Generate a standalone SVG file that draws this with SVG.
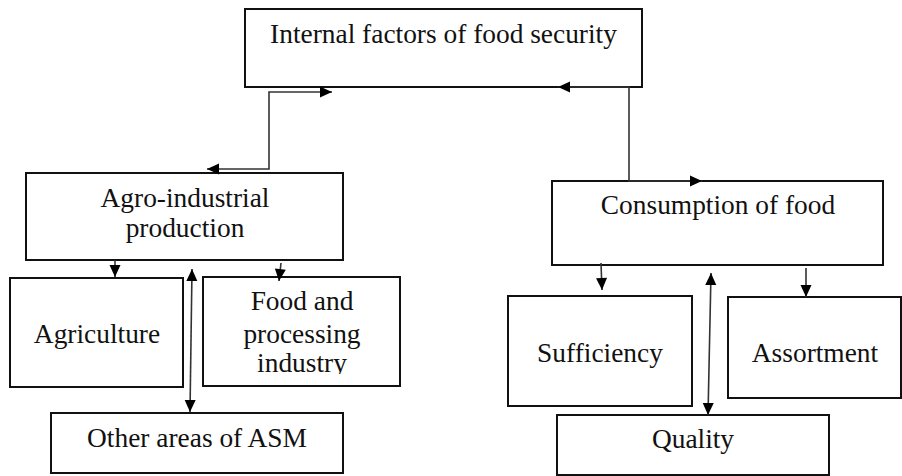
<svg xmlns="http://www.w3.org/2000/svg" width="902" height="476" viewBox="0 0 902 476">
  <style>
    .box { fill: #fff; stroke: #111; stroke-width: 2; }
    .lbl { font-family: "Liberation Serif", "Times New Roman", serif; font-size: 27.4px; fill: #111; text-anchor: middle; }
    .con { fill: none; stroke: #333; stroke-width: 1.6; }
  </style>
  <defs>
    <marker id="ah" markerUnits="userSpaceOnUse" markerWidth="14" markerHeight="14" viewBox="0 0 14 14" refX="13" refY="7" orient="auto-start-reverse">
      <path d="M1,1.5 L13,7 L1,12.5 Z" fill="#000"/>
    </marker>
    <clipPath id="clipFood">
      <rect x="203" y="277" width="197" height="97"/>
    </clipPath>
  </defs>
  <rect width="902" height="476" fill="#fff"/>

  <g id="internal">
    <rect class="box" x="245" y="9" width="397" height="78"/>
    <text class="lbl" x="443.5" y="43">Internal factors of food security</text>
  </g>

  <g id="agro">
    <rect class="box" x="26" y="173" width="317" height="87"/>
    <text class="lbl" x="185" y="207">Agro-industrial</text>
    <text class="lbl" x="185" y="237">production</text>
  </g>

  <g id="agriculture">
    <rect class="box" x="10" y="278" width="173" height="109"/>
    <text class="lbl" x="97" y="343">Agriculture</text>
  </g>

  <g id="food-processing">
    <rect class="box" x="203" y="277" width="197" height="109"/>
    <g clip-path="url(#clipFood)">
      <text class="lbl" x="302" y="310">Food and</text>
      <text class="lbl" x="302" y="343">processing</text>
      <text class="lbl" x="302" y="372">industry</text>
    </g>
  </g>

  <g id="other-asm">
    <rect class="box" x="51" y="413" width="292" height="60"/>
    <text class="lbl" x="197" y="447">Other areas of ASM</text>
  </g>

  <g id="consumption">
    <rect class="box" x="552" y="181" width="331" height="84"/>
    <text class="lbl" x="718" y="214">Consumption of food</text>
  </g>

  <g id="sufficiency">
    <rect class="box" x="508" y="296" width="184" height="110"/>
    <text class="lbl" x="600" y="362">Sufficiency</text>
  </g>

  <g id="assortment">
    <rect class="box" x="728" y="297" width="173" height="101"/>
    <text class="lbl" x="815" y="362">Assortment</text>
  </g>

  <g id="quality">
    <rect class="box" x="557" y="415" width="272" height="60"/>
    <text class="lbl" x="693" y="448">Quality</text>
  </g>

  <g id="connectors">
    <path class="con" d="M332,92 H269 V169 H207" marker-start="url(#ah)" marker-end="url(#ah)"/>
    <path class="con" d="M558,87 H629 V181 H702" marker-start="url(#ah)" marker-end="url(#ah)"/>
    <path class="con" d="M115,260 V277" marker-end="url(#ah)"/>
    <path class="con" d="M281,263 L279,281" marker-end="url(#ah)"/>
    <path class="con" d="M192,269 L190,412" marker-start="url(#ah)" marker-end="url(#ah)"/>
    <path class="con" d="M601,263 L602,290" marker-end="url(#ah)"/>
    <path class="con" d="M711,273 L708,415" marker-start="url(#ah)" marker-end="url(#ah)"/>
    <path class="con" d="M806,268 V297" marker-end="url(#ah)"/>
  </g>
</svg>
